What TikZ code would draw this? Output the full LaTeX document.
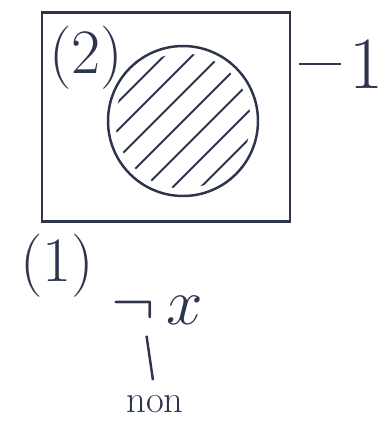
\documentclass[tikz,border=0pt]{standalone}
\usetikzlibrary{positioning}
\definecolor{ink}{RGB}{45,52,78}

\begin{document}
\begin{tikzpicture}[x=0.02cm,y=-0.02cm,line width=1.4pt,draw=ink,text=ink,
 lbl/.style={inner sep=0pt,font=\fontsize{36}{36}\selectfont},
 frame/.style={draw=ink,rectangle,minimum width=4.96cm,minimum height=4.18cm,inner sep=0pt},
 disc/.style={draw=ink,circle,minimum size=3cm,inner sep=0pt}]
\useasboundingbox (0,0) rectangle (390,423);
\node[frame] (box) at (166,117) {};
\node[disc] (c) at (183,121) {};
\begin{scope}
 \clip (c.center) circle (1.35cm);
 \foreach \d in {-112,-84,...,112}
  \draw[line width=1.1pt] (183+\d-120,121+120) -- (183+\d+120,121-120);
\end{scope}
\node[lbl] (two) at (86,58) {(2)};
\node[lbl,font=\fontsize{42}{42}\selectfont] (one) at (366,64) {1};
\draw (box.east |- one.west) ++(8,0) coordinate (t) -- ([xshift=-4pt]one.west);
\node[lbl] (first) at (57,266) {(1)};
\node[lbl] (negx) at (157,310) {\scalebox{1.5}{$\neg\,x$}};
\node[lbl,font=\fontsize{22}{22}\selectfont] (non) at (155,404) {non};
\draw[shorten <=6pt,shorten >=8pt] (negx.south -| 145,0) -- (non.north);
\end{tikzpicture}
\end{document}
